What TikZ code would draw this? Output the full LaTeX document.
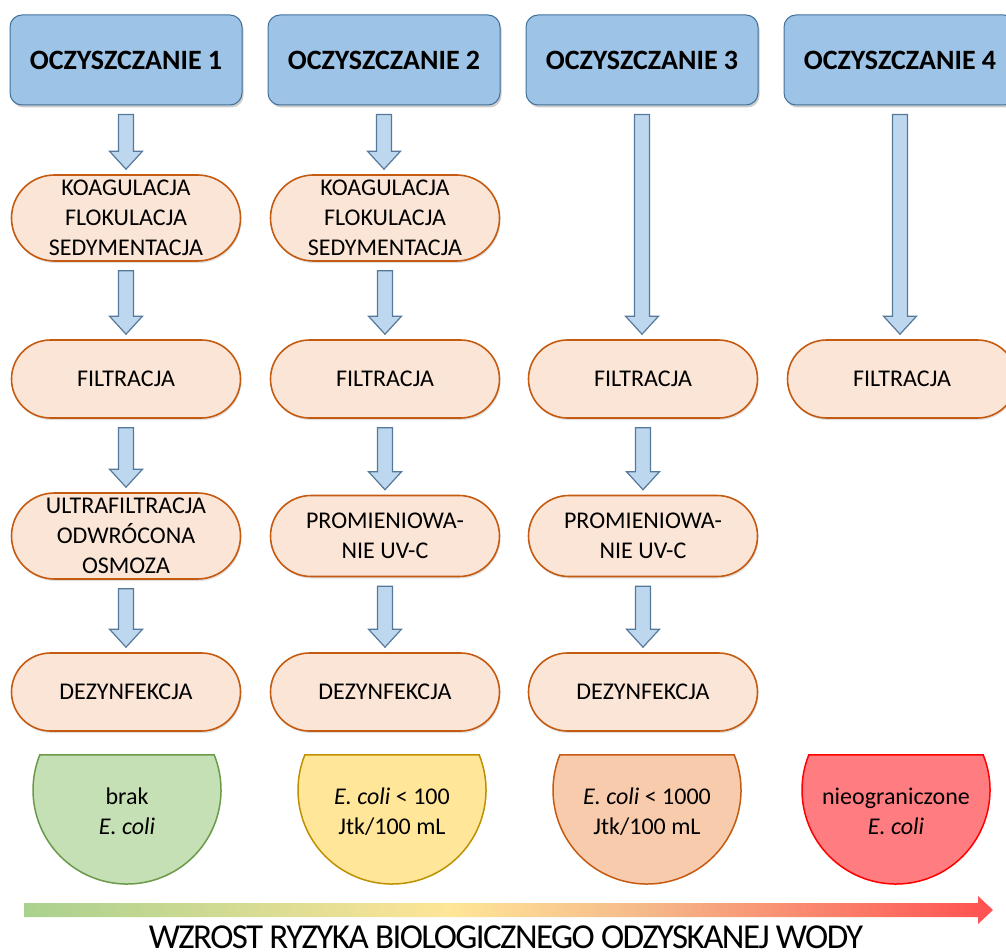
\documentclass[tikz,border=0pt]{standalone}
\usepackage{fontspec}
\setmainfont{Carlito}
\usepackage{xcolor}
\usepackage{tikz}
\usetikzlibrary{positioning,shapes.misc,shadows,calc}
\definecolor{headfill}{HTML}{9DC3E6}
\definecolor{headline}{HTML}{41719C}
\definecolor{stepfill}{HTML}{FBE5D6}
\definecolor{stepline}{HTML}{C55A11}
\definecolor{arrowfill}{HTML}{BDD7EE}
\definecolor{arrowline}{HTML}{56789A}
\definecolor{greenfill}{HTML}{C5E0B4}
\definecolor{greenline}{HTML}{6A9A4A}
\definecolor{yellowfill}{HTML}{FFE699}
\definecolor{yellowline}{HTML}{BF9000}
\definecolor{orangefill}{HTML}{F8CBAD}
\definecolor{orangeline}{HTML}{C55A11}
\definecolor{redfill}{HTML}{FF7C80}
\definecolor{redline}{HTML}{FF0000}
\definecolor{riskgreen}{HTML}{A9D18E}
\definecolor{riskyellow}{HTML}{FFE597}
\definecolor{riskorange}{HTML}{F5B98A}
\definecolor{riskred}{HTML}{FF5050}
\pgfdeclarehorizontalshading{riskshade}{100bp}{color(0bp)=(riskgreen); color(25bp)=(riskgreen);
  color(47bp)=(riskyellow); color(57bp)=(riskorange); color(75bp)=(riskred); color(100bp)=(riskred)}
\tikzset{
    header/.style={rectangle, rounded corners=12pt, draw=headline, line width=1pt, fill=headfill,
        minimum width=232pt, minimum height=90pt, font=\fontsize{28}{32}\selectfont\bfseries,
        drop shadow={shadow xshift=1.5pt, shadow yshift=-2.5pt, fill=black, opacity=0.2}},
    stepbox/.style={rounded rectangle, draw=stepline, line width=1.6pt, fill=stepfill,
        minimum width=231pt, minimum height=78pt, inner sep=1pt, align=center,
        font=\fontsize{24}{30}\selectfont,
        drop shadow={shadow xshift=1pt, shadow yshift=-2pt, fill=black, opacity=0.12}},
    tall/.style={minimum height=86pt},
    blockarrow/.style={draw=arrowline, line width=1.2pt, fill=arrowfill, line join=miter},
    bowl/.style={line width=1.5pt},
    bowl text/.style={align=center, font=\fontsize{24}{29.5}\selectfont}
}
% block arrow from the bottom of one node to the top of the next
\newcommand{\flowarrow}[2]{%
  \draw[blockarrow] let \p1=(#1.south), \p2=(#2.north) in
    (\x1-7.5pt,\y1-9pt) -- (\x1+7.5pt,\y1-9pt) -- (\x1+7.5pt,\y2+23pt)
    -- (\x1+16.5pt,\y2+23pt) -- (\x1,\y2+5pt) -- (\x1-16.5pt,\y2+23pt)
    -- (\x1-7.5pt,\y2+23pt) -- cycle;}
% half-round result shape with its text
\newcommand{\riskbowl}[4]{%
  \draw[bowl, draw=#3line, fill=#3fill] (#2,790) ++(-21.9:94)
    arc[start angle=-21.9, end angle=201.9, radius=94] -- cycle;
  \node[bowl text] (#1) at (#2,811.5) {#4};}

\begin{document}
\begin{tikzpicture}[x=1pt, y=-1pt]
    \useasboundingbox (0,0) rectangle (1006,952);
    \clip (0,0) rectangle (1006,952);

    \node[header] (h1) at (126,60) {OCZYSZCZANIE 1};
    \node[header] (h2) at (384,60) {OCZYSZCZANIE 2};
    \node[header] (h3) at (642,60) {OCZYSZCZANIE 3};
    \node[header] (h4) at (900,60) {OCZYSZCZANIE 4};

    \node[stepbox, tall] (k1) at (126,218) {KOAGULACJA\\FLOKULACJA\\SEDYMENTACJA};
    \node[stepbox] (f1) at (126,379) {FILTRACJA};
    \node[stepbox, tall] (u1) at (126,536) {ULTRAFILTRACJA\\ODWRÓCONA\\OSMOZA};
    \node[stepbox] (d1) at (126,692) {DEZYNFEKCJA};

    \node[stepbox, tall] (k2) at (385,218) {KOAGULACJA\\FLOKULACJA\\SEDYMENTACJA};
    \node[stepbox] (f2) at (385,379) {FILTRACJA};
    \node[stepbox, minimum height=81pt] (p2) at (385,536) {PROMIENIOWA-\\NIE UV-C};
    \node[stepbox] (d2) at (385,692) {DEZYNFEKCJA};

    \node[stepbox] (f3) at (643,379) {FILTRACJA};
    \node[stepbox, minimum height=81pt] (p3) at (643,536) {PROMIENIOWA-\\NIE UV-C};
    \node[stepbox] (d3) at (643,692) {DEZYNFEKCJA};

    \node[stepbox] (f4) at (902,379) {FILTRACJA};

    \flowarrow{h1}{k1}
    \flowarrow{k1}{f1}
    \flowarrow{f1}{u1}
    \flowarrow{u1}{d1}
    \flowarrow{h2}{k2}
    \flowarrow{k2}{f2}
    \flowarrow{f2}{p2}
    \flowarrow{p2}{d2}
    \flowarrow{h3}{f3}
    \flowarrow{f3}{p3}
    \flowarrow{p3}{d3}
    \flowarrow{h4}{f4}

    \riskbowl{r1}{127}{green}{brak\\\textit{E. coli}}
    \riskbowl{r2}{392}{yellow}{\textit{E. coli} < 100\\Jtk/100 mL}
    \riskbowl{r3}{647}{orange}{\textit{E. coli} < 1000\\Jtk/100 mL}
    \riskbowl{r4}{896}{red}{nieograniczone\\\textit{E. coli}}

    \coordinate (riskstart) at (24,910);
    \coordinate (riskend) at (993,910);
    \shade[shading=riskshade] ($(riskstart)+(0,-7)$) -- ($(riskend)+(-15,-7)$)
        -- ($(riskend)+(-15,-14)$) -- (riskend) -- ($(riskend)+(-15,14)$)
        -- ($(riskend)+(-15,7)$) -- ($(riskstart)+(0,7)$) -- cycle;
    \node[anchor=base, font=\fontsize{35}{40}\selectfont\addfontfeature{LetterSpace=-4.5}, inner sep=0pt]
        (risk) at (506,948) {WZROST RYZYKA BIOLOGICZNEGO ODZYSKANEJ WODY};
\end{tikzpicture}
\end{document}
